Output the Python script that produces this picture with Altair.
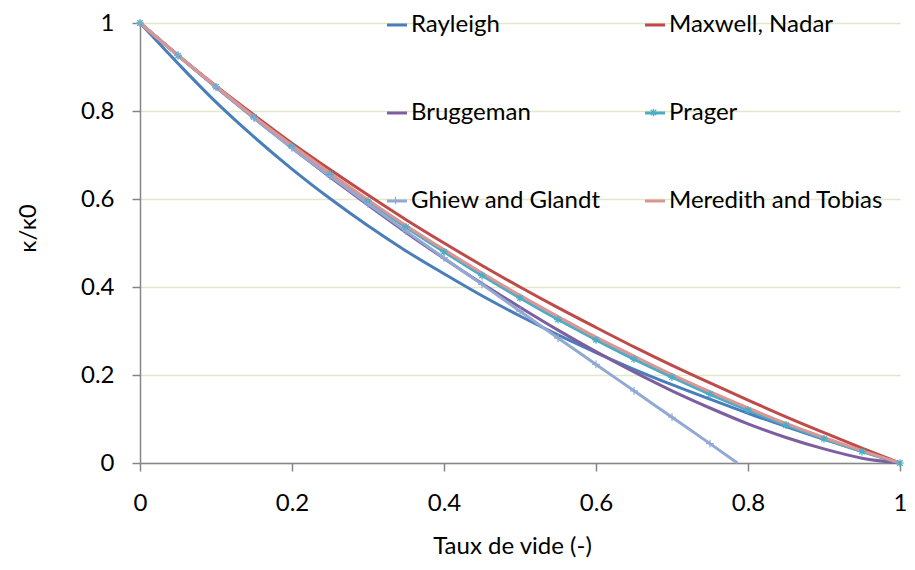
import altair as alt
import pandas as pd

# Values
phi = [0.0, 0.05, 0.1, 0.15, 0.2, 0.25, 0.3, 0.35, 0.4, 0.45, 0.5,
       0.55, 0.6, 0.65, 0.7, 0.75, 0.8, 0.85, 0.9, 0.95, 1.0]

rayleigh = [1.0, 0.908, 0.820, 0.741, 0.668, 0.601, 0.539, 0.482, 0.430, 0.380, 0.334,
            0.291, 0.251, 0.213, 0.178, 0.145, 0.113, 0.083, 0.054, 0.027, 0.0]
maxwell = [1.0, 0.927, 0.857, 0.791, 0.727, 0.667, 0.609, 0.553, 0.500, 0.449, 0.400,
           0.353, 0.308, 0.264, 0.222, 0.182, 0.143, 0.105, 0.069, 0.034, 0.0]
bruggeman = [1.0, 0.926, 0.854, 0.784, 0.716, 0.650, 0.586, 0.524, 0.465, 0.408, 0.354,
             0.302, 0.253, 0.207, 0.164, 0.125, 0.089, 0.058, 0.032, 0.011, 0.0]
prager = [1.0, 0.926, 0.855, 0.786, 0.720, 0.656, 0.595, 0.536, 0.480, 0.426, 0.375,
          0.326, 0.280, 0.236, 0.195, 0.156, 0.120, 0.086, 0.055, 0.026, 0.0]
meredith = [1.0, 0.926, 0.856, 0.787, 0.722, 0.659, 0.598, 0.540, 0.485, 0.432, 0.381,
            0.333, 0.286, 0.243, 0.201, 0.162, 0.125, 0.090, 0.058, 0.028, 0.0]

ghiew_phi = [0.0, 0.05, 0.1, 0.15, 0.2, 0.25, 0.3, 0.35, 0.4, 0.45, 0.5,
             0.55, 0.6, 0.65, 0.7, 0.75, 0.786]
ghiew = [1.0, 0.927, 0.855, 0.784, 0.716, 0.652, 0.589, 0.527, 0.466, 0.406, 0.345,
         0.284, 0.224, 0.164, 0.104, 0.044, 0.0]
ghiew_marker = [True] * 16 + [False]

series_names = ["Rayleigh", "Maxwell, Nadar", "Bruggeman", "Prager",
                "Ghiew and Glandt", "Meredith and Tobias"]
series_colors = ["#4A7EBB", "#BE4B48", "#7D5FA0", "#4BACC6", "#92A9D3", "#D99694"]

rows = []
for name, vals in [("Rayleigh", rayleigh), ("Maxwell, Nadar", maxwell),
                   ("Bruggeman", bruggeman), ("Prager", prager)]:
    for x, y in zip(phi, vals):
        rows.append({"phi": x, "k": y, "serie": name, "marker": name == "Prager"})
for x, y, m in zip(ghiew_phi, ghiew, ghiew_marker):
    rows.append({"phi": x, "k": y, "serie": "Ghiew and Glandt", "marker": m})
for x, y in zip(phi, meredith):
    rows.append({"phi": x, "k": y, "serie": "Meredith and Tobias", "marker": False})
df = pd.DataFrame(rows)

FONT = "Lato"
ASTERISK = "M-1,0L1,0M0,-1L0,1M-0.7,-0.7L0.7,0.7M-0.7,0.7L0.7,-0.7"
PLUS = "M-1,0L1,0M0,-1L0,1"
PRAGER_COL = "#4BACC6"
GHIEW_COL = "#92A9D3"

color = alt.Color(
    "serie:N",
    scale=alt.Scale(domain=series_names, range=series_colors),
    legend=alt.Legend(
        title=None, orient="none", legendX=245, legendY=-10, columns=2,
        direction="horizontal",
        symbolType="stroke", symbolSize=400, symbolStrokeWidth=3,
        labelFont=FONT, labelFontSize=24, labelColor="#000000",
        labelLimit=500, labelOffset=2, rowPadding=64, columnPadding=38,
        padding=0,
    ),
)

xenc = alt.X(
    "phi:Q",
    scale=alt.Scale(domain=[0, 1], nice=False),
    axis=alt.Axis(
        title="Taux de vide (-)", values=[0, 0.2, 0.4, 0.6, 0.8, 1],
        format="~g", grid=False, tickSize=8, labelPadding=20, labelFlush=False,
        titleX=372, titleY=90, titleBaseline="alphabetic",
    ),
)
yenc = alt.Y(
    "k:Q",
    scale=alt.Scale(domain=[0, 1], nice=False),
    axis=alt.Axis(
        title="κ/κ0", values=[0, 0.2, 0.4, 0.6, 0.8, 1],
        format="~g", grid=True, gridColor="#E1E8C6", gridWidth=1.5,
        tickSize=8, labelPadding=18, labelFlush=False,
        titleX=-105, titleY=205, titleBaseline="alphabetic", titleAngle=270,
    ),
)

lines = alt.Chart(df).mark_line(strokeWidth=3, interpolate="monotone").encode(
    x=xenc, y=yenc, color=color, detail="serie:N"
)


def marker_layer(name, path, col, lx, ly):
    return alt.Chart(df).transform_filter(
        alt.datum.serie == name
    ).transform_filter("datum.marker").mark_point(
        filled=False, size=60, strokeWidth=1.2, color=col, opacity=1
    ).encode(
        x="phi:Q", y="k:Q",
        shape=alt.Shape(
            "serie:N",
            scale=alt.Scale(domain=[name], range=[path]),
            legend=alt.Legend(
                title=None, orient="none", legendX=lx, legendY=ly,
                symbolSize=60, symbolStrokeColor=col, symbolFillColor="transparent",
                symbolStrokeWidth=1.2, labelExpr="''", labelFontSize=1,
                padding=0,
            ),
        ),
    )


prager_pts = marker_layer("Prager", ASTERISK, PRAGER_COL, 509, 85)
ghiew_pts = marker_layer("Ghiew and Glandt", PLUS, GHIEW_COL, 251, 173)

chart = alt.layer(lines, prager_pts, ghiew_pts).resolve_scale(
    shape="independent"
).properties(
    width=760, height=440,
    autosize=alt.AutoSizeParams(type="none"),
    padding={"left": 132, "top": 15, "right": 7, "bottom": 99},
).configure_view(stroke=None).configure_axis(
    labelFont=FONT, titleFont=FONT, labelFontSize=24, titleFontSize=24,
    labelColor="#000000", titleColor="#000000", titleFontWeight="normal",
    domainColor="#868686", tickColor="#868686", domainWidth=1.5, tickWidth=1.5,
)

chart.save("out.html", embed_options={"renderer": "svg", "actions": False})
